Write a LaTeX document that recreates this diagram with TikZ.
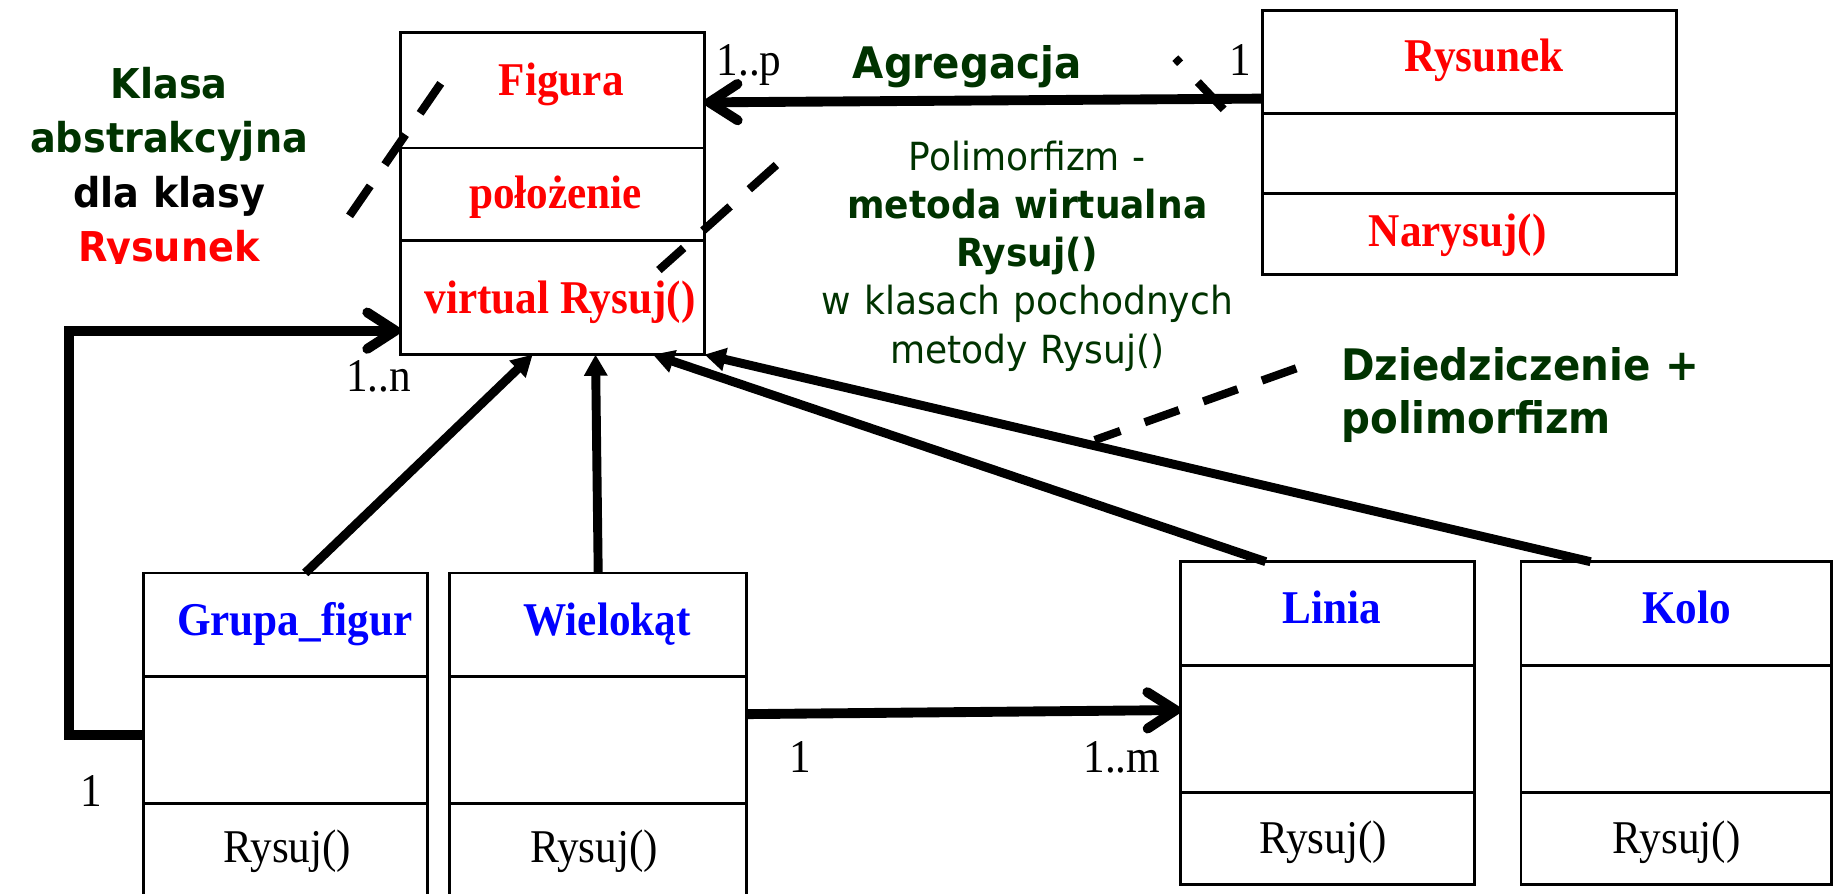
\documentclass[tikz,border=0pt]{standalone}
\usepackage{fontspec}
\setmainfont{Liberation Serif}[FakeStretch=0.92]
\setsansfont{DejaVu Sans}[FakeStretch=0.93]
\usetikzlibrary{arrows.meta}

\definecolor{ciemnazielen}{RGB}{0,51,0}

\begin{document}
\begin{tikzpicture}
[
  x=0.5pt, y=-0.5pt,
	klasa/.style={draw,line width=1.2pt,inner sep=0pt,outer sep=0pt},
	przegroda/.style={line width=1.2pt},
	nazwa/.style={anchor=base,inner sep=0pt,font=\fontsize{20}{24}\selectfont\bfseries},
	metoda/.style={anchor=base,inner sep=0pt,font=\fontsize{20}{24}\selectfont},
	opis/.style={inner sep=0pt,text=ciemnazielen,font=\sffamily\bfseries\fontsize{18.5}{22.65}\selectfont},
	asoc/.style={line width=4.2pt,-{Straight Barb[length=12pt,width=15.5pt,round]}},
	dziedzicz/.style={line width=3.8pt,-{Triangle[length=9pt,width=9.5pt]}},
	wskaz/.style={line width=3.5pt,dash pattern=on 15.5pt off 11pt}
]
\useasboundingbox (0,0) rectangle (1568,761);

\node[klasa,minimum width=129.5pt,minimum height=137pt] (figura) at (470.5,165) {};
\draw[przegroda] (341,126) -- (600,126);
\draw[przegroda] (341,205) -- (600,205);
\node[nazwa,text=red] (figura-n) at (478,81) {Figura};
\node[nazwa,text=red] (figura-a) at (473.2,177.5) {położenie};
\node[nazwa,text=red] (figura-m) at (477,266.9) {virtual Rysuj()};

\node[klasa,minimum width=176.5pt,minimum height=112.5pt] (rysunek) at (1251.5,121.5) {};
\draw[przegroda] (1075,97) -- (1428,97);
\draw[przegroda] (1075,165) -- (1428,165);
\node[nazwa,text=red] (rysunek-n) at (1264,61) {Rysunek};
\node[nazwa,text=red] (rysunek-m) at (1241.5,210) {Narysuj()};

\node[klasa,minimum width=121pt,minimum height=138pt] (grupa) at (243,626) {};
\draw[przegroda] (122,576.4) -- (364,576.4);
\draw[przegroda] (122,684.3) -- (364,684.3);
\node[nazwa,text=blue] (grupa-n) at (251,541) {Grupa\_figur};
\node[metoda] (grupa-m) at (244.7,735) {Rysuj()};

\node[klasa,minimum width=126.5pt,minimum height=138pt] (wielokat) at (509.5,626) {};
\draw[przegroda] (383,576.4) -- (636,576.4);
\draw[przegroda] (383,684.3) -- (636,684.3);
\node[nazwa,text=blue] (wielokat-n) at (517,541) {Wielokąt};
\node[metoda] (wielokat-m) at (506,735) {Rysuj()};

\node[klasa,minimum width=125.25pt,minimum height=137.3pt] (linia) at (1130.75,615.7) {};
\draw[przegroda] (1005.5,567) -- (1256,567);
\draw[przegroda] (1005.5,675) -- (1256,675);
\node[nazwa,text=blue] (linia-n) at (1134,530.9) {Linia};
\node[metoda] (linia-m) at (1127,726.8) {Rysuj()};

\node[klasa,minimum width=132.25pt,minimum height=137.3pt] (kolo) at (1427.75,615.7) {};
\draw[przegroda] (1295.5,567) -- (1560,567);
\draw[przegroda] (1295.5,675) -- (1560,675);
\node[nazwa,text=blue] (kolo-n) at (1436.6,530.9) {Kolo};
\node[metoda] (kolo-m) at (1428,726.8) {Rysuj()};


\draw[asoc] (rysunek.168.9) -- (figura.31.06);
\draw[asoc] (grupa.west) -- ++(-63,0) |- (figura.222.6);
\draw[asoc] (wielokat.8.5) -- (linia.175.6);

\draw[dziedzicz] (grupa.83.5) -- (figura.263);
\draw[dziedzicz] (wielokat.north) -- (figura.285.8);
\draw[dziedzicz] (linia.111.6) -- (figura.302.9);
\draw[dziedzicz] (kolo.118.6) -- (figura.south east);

\node[metoda] (kr-p) at (638,63.9) {1..p};
\node[metoda] (kr-1a) at (1056,63.9) {1};
\node[metoda] (kr-n) at (322.6,333.6) {1..n};
\node[metoda] (kr-1b) at (78,687) {1};
\node[metoda] (kr-1c) at (681.7,658) {1};
\node[metoda] (kr-m) at (955.5,658) {1..m};


\begin{scope}
\clip (0,0) rectangle (330,224.3);
\node[opis,font=\sffamily\bfseries\fontsize{17.5}{23.2}\selectfont,text width=140pt,align=center,anchor=base] (abstr) at (144,83.8)
  {Klasa\\abstrakcyjna\\\textcolor{black}{dla klasy}\\\textcolor{red}{Rysunek}};
\end{scope}

\node[opis,anchor=base] (agreg) at (823.7,66.7) {Agregacja};

\node[opis,font=\sffamily\fontsize{16.5}{20.55}\selectfont,text width=200pt,align=center,anchor=base] (polim) at (875,144.8)
  {Polimorfizm -\\\textbf{metoda wirtualna}\\\textbf{Rysuj()}\\w klasach pochodnych\\metody Rysuj()};

\node[opis,text width=170pt,align=left,anchor=base west] (dziedz) at (1142,323.7) {Dziedziczenie +\\polimorfizm};


\coordinate (abstr-a) at (375.4,71);
\coordinate (abstr-b) at (297.2,184.6);
\draw[wskaz] (abstr-a) -- (abstr-b);

\coordinate (polim-a) at (661.3,140.5);
\coordinate (polim-b) at (561.2,230);
\draw[wskaz] (polim-a) -- (polim-b);

\coordinate (dziedz-a) at (1104,313.7);
\coordinate (dziedz-b) at (932.4,374.8);
\draw[wskaz] (dziedz-a) -- (dziedz-b);

\coordinate (agreg-a) at (1001,49.5);
\coordinate (agreg-b) at (1043,94);
\draw[wskaz,dash pattern=on 3pt off 11pt on 16pt off 20pt] (agreg-a) -- (agreg-b);
\end{tikzpicture}
\end{document}
